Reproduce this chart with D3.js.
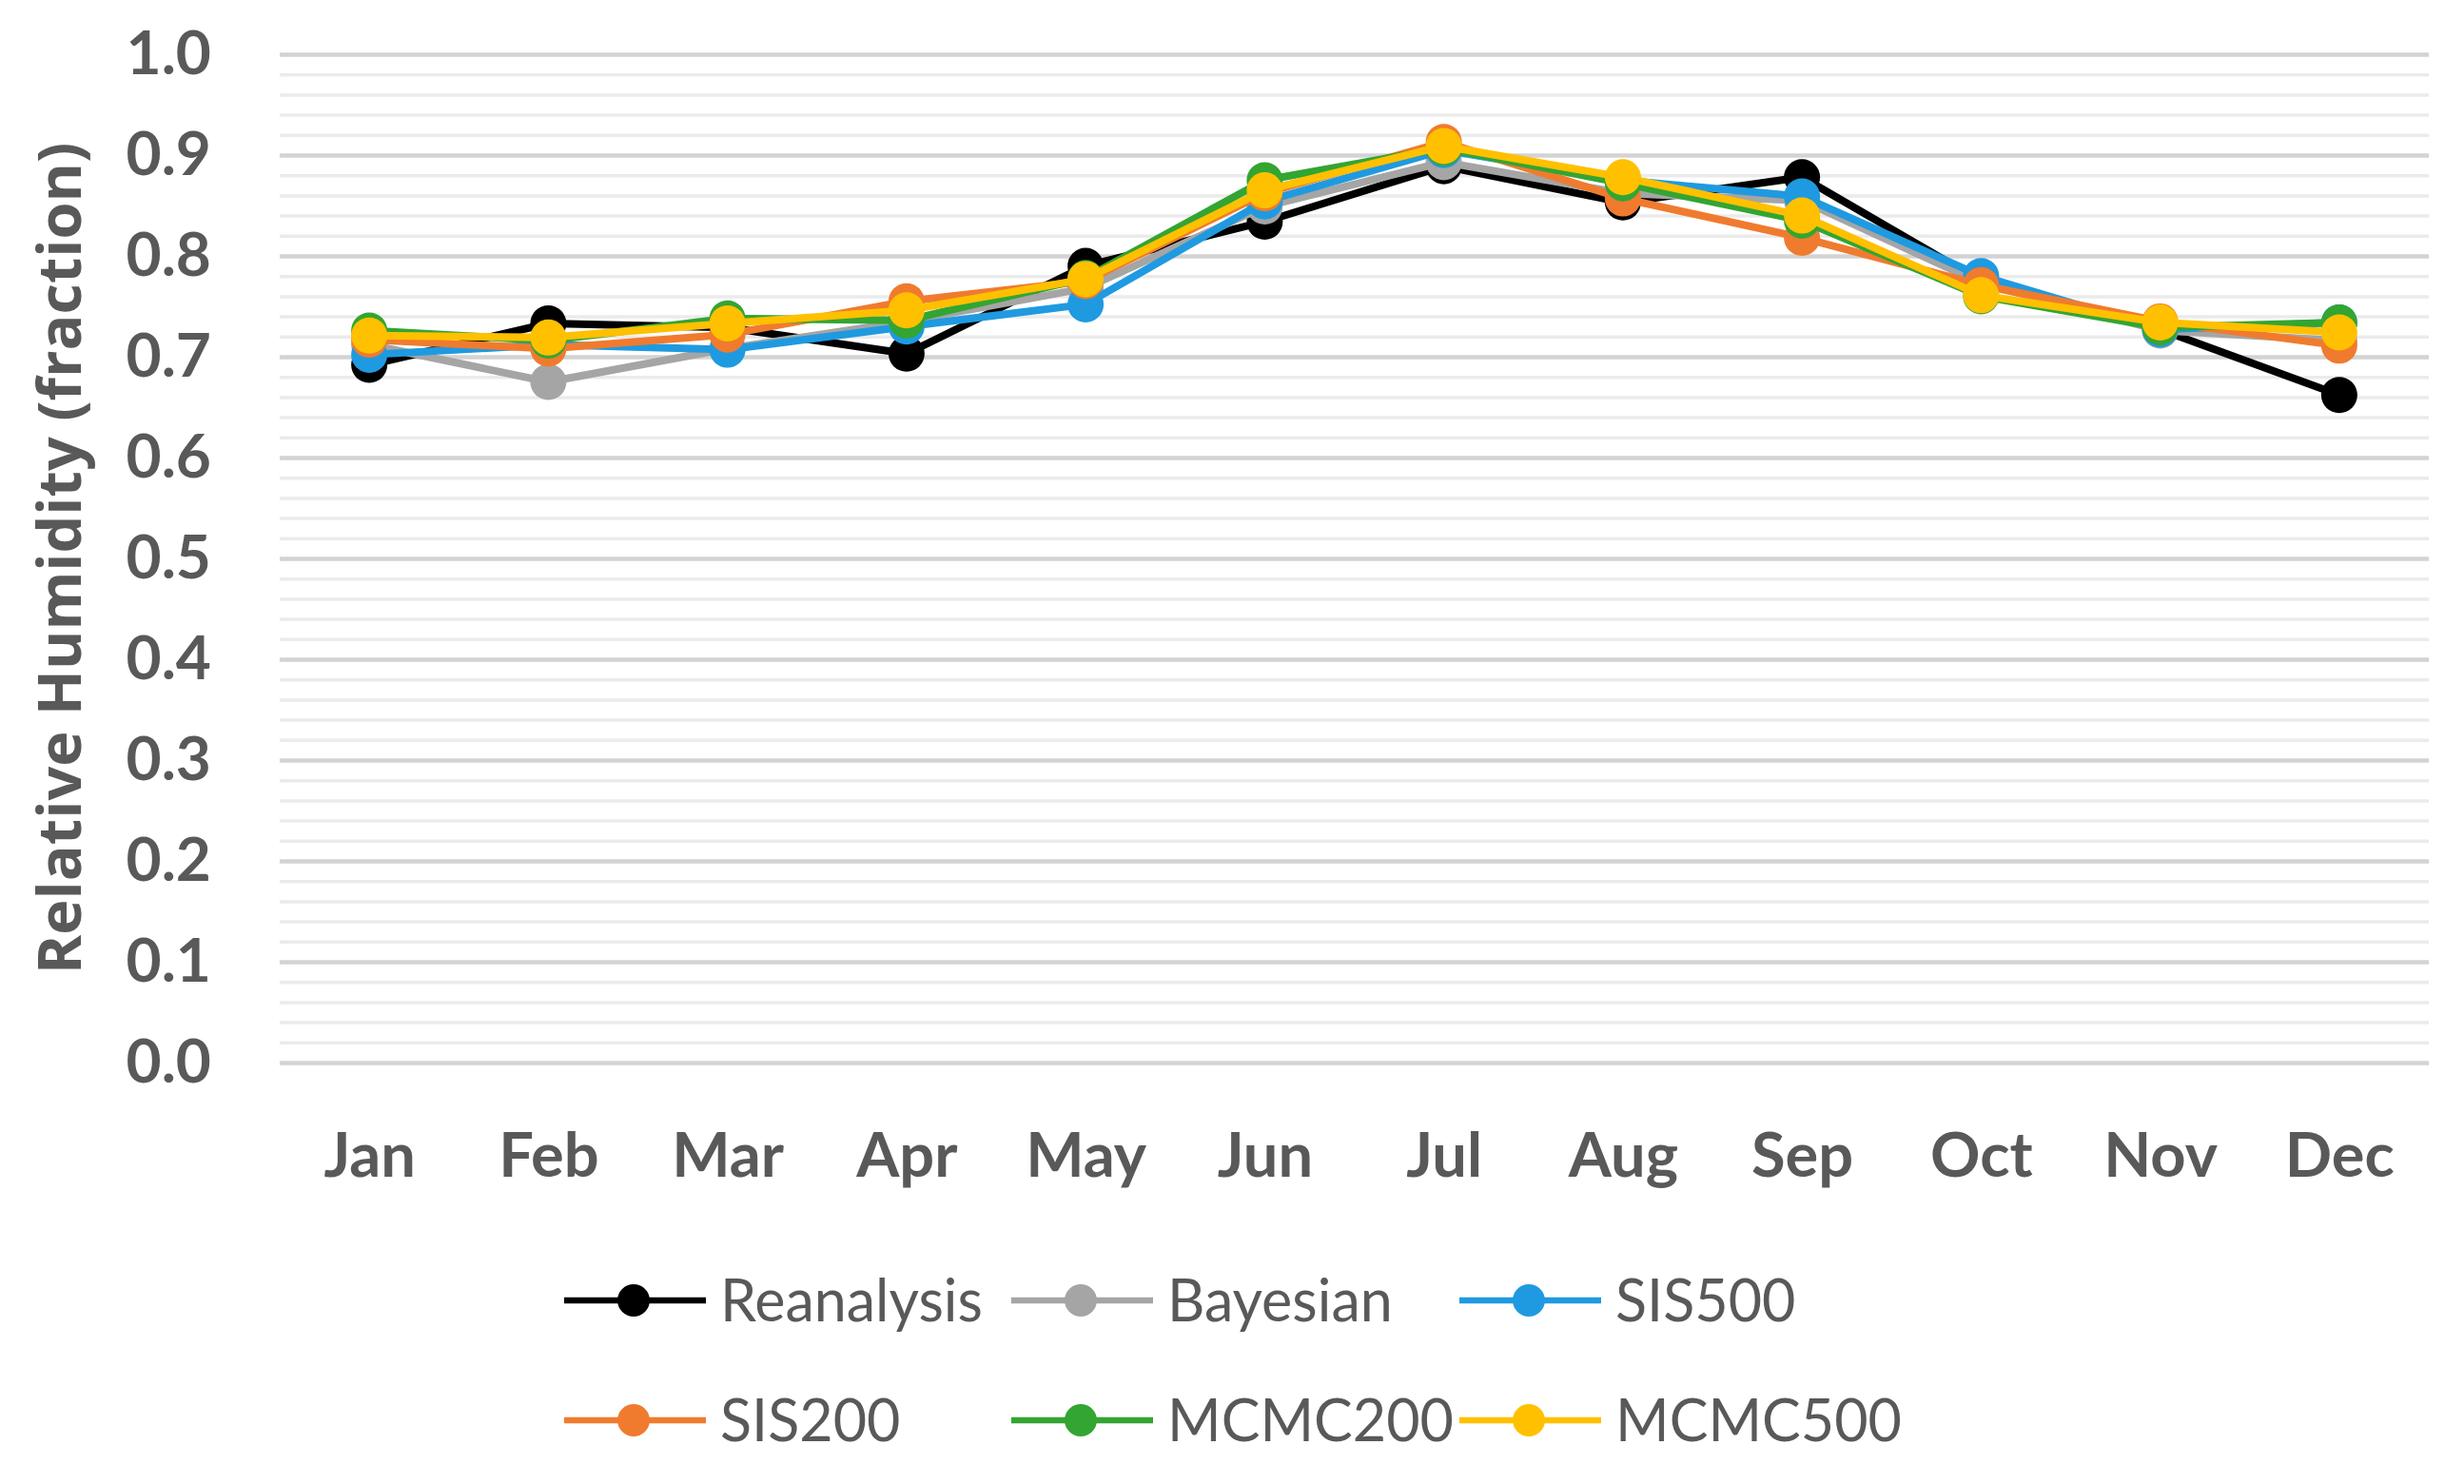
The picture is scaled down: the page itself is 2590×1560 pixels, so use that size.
<!DOCTYPE html>
<html>
<head>
<meta charset="utf-8">
<script src="https://cdn.jsdelivr.net/npm/d3@7"></script>
<style>
  html, body { margin: 0; padding: 0; background: #fff; }
  svg { display: block; }
</style>
</head>
<body>
<script>
// Data
var months = ["Jan", "Feb", "Mar", "Apr", "May", "Jun", "Jul", "Aug", "Sep", "Oct", "Nov", "Dec"];
var seriesNames = ["Reanalysis", "Bayesian", "SIS500", "SIS200", "MCMC200", "MCMC500"];
var reanalysis = [0.692, 0.733, 0.729, 0.703, 0.790, 0.834, 0.889, 0.853, 0.878, 0.775, 0.727, 0.662];
var bayesian   = [0.712, 0.675, 0.708, 0.735, 0.768, 0.849, 0.893, 0.862, 0.855, 0.773, 0.726, 0.716];
var sis500     = [0.702, 0.712, 0.707, 0.730, 0.752, 0.854, 0.905, 0.875, 0.859, 0.780, 0.727, 0.734];
var sis200     = [0.717, 0.708, 0.722, 0.755, 0.775, 0.862, 0.913, 0.857, 0.818, 0.771, 0.735, 0.711];
var mcmc200    = [0.726, 0.716, 0.738, 0.736, 0.778, 0.875, 0.907, 0.872, 0.835, 0.760, 0.729, 0.734];
var mcmc500    = [0.721, 0.719, 0.733, 0.746, 0.777, 0.865, 0.909, 0.878, 0.840, 0.761, 0.734, 0.724];
var majorTicks = [0, 0.1, 0.2, 0.3, 0.4, 0.5, 0.6, 0.7, 0.8, 0.9, 1.0];
var minorTicks = d3.range(0, 50).map(function(i) { return i * 0.02; }).filter(function(v, i) { return i % 5 !== 0; });

var colors = ["#000000", "#a5a5a5", "#1f9ae0", "#f07b2e", "#33a532", "#ffc000"];
var values = [reanalysis, bayesian, sis500, sis200, mcmc200, mcmc500];

var series = seriesNames.map(function(name, i) {
  return { name: name, color: colors[i], values: values[i] };
});

var W = 2590, H = 1560;
var plot = { left: 294, right: 2553, top: 57, bottom: 1117 };
var textColor = "#595959";

var svg = d3.select("body").append("svg")
  .attr("width", W)
  .attr("height", H);

var x = d3.scalePoint().domain(months).range([plot.left, plot.right]).padding(0.5);
var y = d3.scaleLinear().domain([0, 1]).range([plot.bottom, plot.top]);

// minor gridlines
svg.append("g")
  .attr("transform", "translate(" + plot.left + ",0)")
  .call(d3.axisLeft(y).tickValues(minorTicks).tickSize(-(plot.right - plot.left)).tickFormat(""))
  .call(function(g) { g.select(".domain").remove(); })
  .selectAll("line")
  .attr("stroke", "#ebebeb")
  .attr("stroke-width", 3.5);

// major gridlines + labels
var yAxis = svg.append("g")
  .attr("transform", "translate(" + plot.left + ",0)")
  .call(d3.axisLeft(y).tickValues(majorTicks).tickSize(-(plot.right - plot.left)).tickPadding(72).tickFormat(d3.format(".1f")));
yAxis.select(".domain").remove();
yAxis.selectAll("line").attr("stroke", "#d3d3d3").attr("stroke-width", 4.5);
yAxis.selectAll("text")
  .attr("fill", textColor)
  .style("font-family", "Lato, 'Open Sans', sans-serif")
  .style("font-weight", "bold")
  .style("font-size", "64px");

// x axis labels
var xAxis = svg.append("g")
  .attr("transform", "translate(0," + plot.bottom + ")")
  .call(d3.axisBottom(x).tickSize(0));
xAxis.select(".domain").remove();
xAxis.selectAll("text")
  .attr("y", 120)
  .attr("dy", 0)
  .attr("fill", textColor)
  .style("font-family", "Lato, 'Open Sans', sans-serif")
  .style("font-weight", "bold")
  .style("font-size", "65px");

// axis title
svg.append("text")
  .attr("transform", "translate(85," + ((plot.top + plot.bottom) / 2) + ") rotate(-90)")
  .attr("text-anchor", "middle")
  .attr("fill", textColor)
  .style("font-family", "'Open Sans', sans-serif")
  .style("font-weight", "bold")
  .style("font-size", "63px")
  .text("Relative Humidity (fraction)");

// lines and markers
var line = d3.line()
  .x(function(d, i) { return x(months[i]); })
  .y(function(d) { return y(d); });

var gSeries = svg.append("g").selectAll("g")
  .data(series)
  .enter().append("g");

gSeries.append("path")
  .attr("d", function(d) { return line(d.values); })
  .attr("fill", "none")
  .attr("stroke", function(d) { return d.color; })
  .attr("stroke-width", 8)
  .attr("stroke-linejoin", "round");

gSeries.selectAll("circle")
  .data(function(d) { return d.values.map(function(v, i) { return { v: v, i: i, color: d.color }; }); })
  .enter().append("circle")
  .attr("cx", function(d) { return x(months[d.i]); })
  .attr("cy", function(d) { return y(d.v); })
  .attr("r", 19)
  .attr("fill", function(d) { return d.color; });

// legend
var legendCols = [593, 1063, 1534];
var legendRows = [1367, 1493];

var legend = svg.append("g").selectAll("g")
  .data(series)
  .enter().append("g")
  .attr("transform", function(d, i) {
    return "translate(" + legendCols[i % 3] + "," + legendRows[Math.floor(i / 3)] + ")";
  });

legend.append("line")
  .attr("x1", 0).attr("x2", 149)
  .attr("y1", 0).attr("y2", 0)
  .attr("stroke", function(d) { return d.color; })
  .attr("stroke-width", 6.5);

legend.append("circle")
  .attr("cx", 73).attr("cy", 0).attr("r", 17)
  .attr("fill", function(d) { return d.color; });

legend.append("text")
  .attr("x", 164)
  .attr("y", 0)
  .attr("dy", "0.36em")
  .attr("fill", textColor)
  .style("font-family", "Lato, 'Open Sans', sans-serif")
  .style("font-size", "61px")
  .text(function(d) { return d.name; });
</script>
</body>
</html>
